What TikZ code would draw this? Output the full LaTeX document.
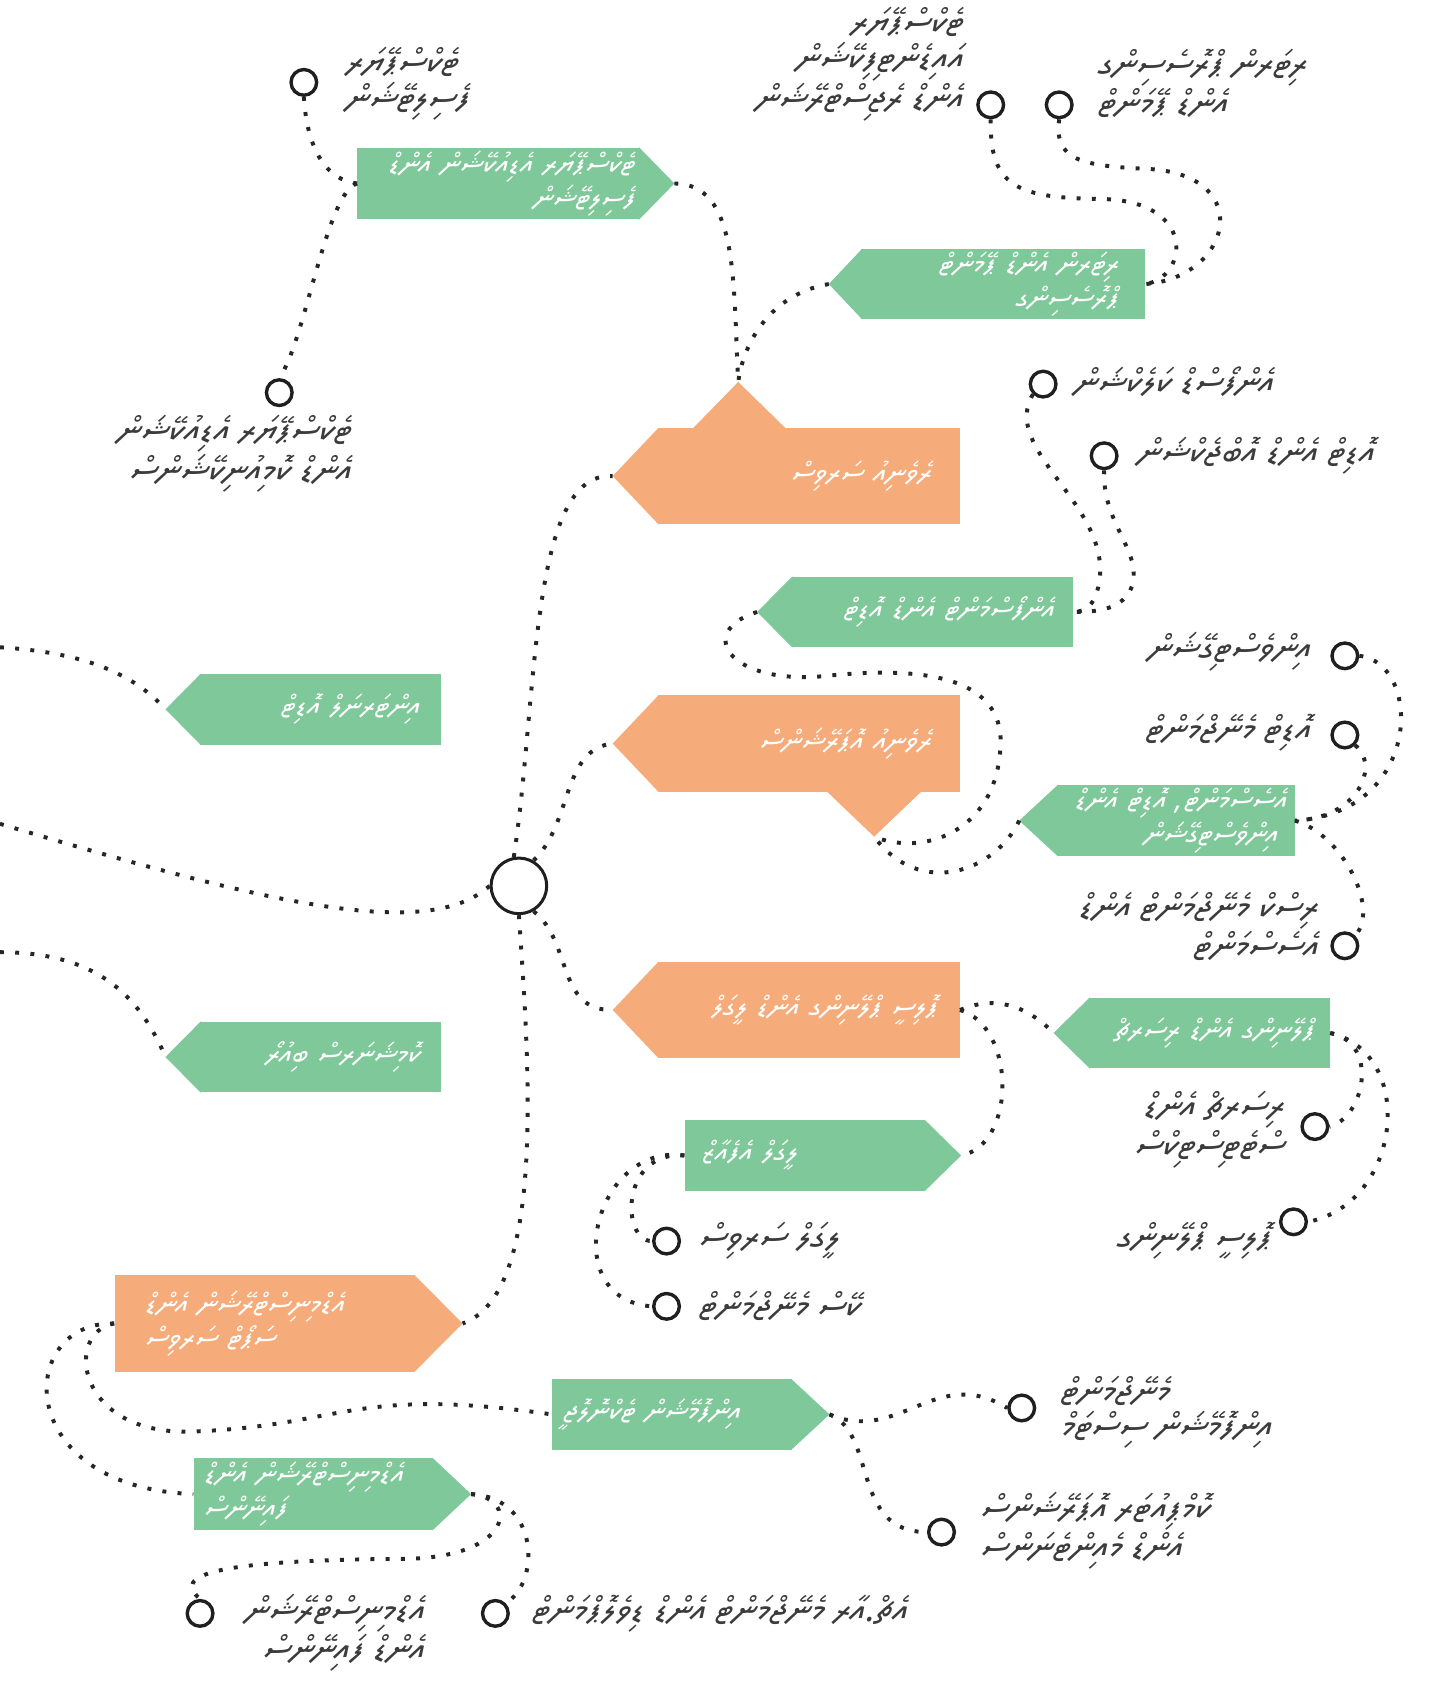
\documentclass[tikz,border=0pt]{standalone}
\usepackage{fontspec}
\usetikzlibrary{calc}
\TeXXeTstate=1
\IfFontExistsTF{Noto Sans Thaana}
  {\newfontfamily\thaana[Script=Thaana,FakeSlant=0.2]{Noto Sans Thaana}}
  {\IfFontExistsTF{FreeSerif}
    {\newfontfamily\thaana[FakeSlant=0.2]{FreeSerif}}
    {\newfontfamily\thaana{DejaVu Sans}}}
\definecolor{boxgreen}{HTML}{7FC899}
\definecolor{boxorange}{HTML}{F6AC7A}
\definecolor{labelgray}{HTML}{3C3C3C}
\newcommand\dv[1]{\mbox{\beginR#1\endR}}
% pointer of a box: node, depth, colour
\newcommand\tipwest[3]{\fill[#3] ($(#1.north west)+(1,0)$) -- ($(#1.west)+(-#2,0)$) coordinate (#1-tip) -- ($(#1.south west)+(1,0)$) -- cycle;}
\newcommand\tipeast[3]{\fill[#3] ($(#1.north east)+(-1,0)$) -- ($(#1.east)+(#2,0)$) coordinate (#1-tip) -- ($(#1.south east)+(-1,0)$) -- cycle;}

\begin{document}
\begin{tikzpicture}[x=0.02cm,y=-0.02cm,
  gbox/.style={fill=boxgreen,text=white,minimum height=1.32cm,inner ysep=0pt,font=\thaana\fontsize{15.6}{18}\selectfont},
  obox/.style={gbox,fill=boxorange,minimum height=1.8cm},
  ring/.style={circle,draw=black!88,line width=1.8pt,minimum size=0.48cm,inner sep=0pt},
  hubring/.style={ring,minimum size=1.04cm,line width=1.6pt},
  lbl/.style={text=labelgray,inner sep=0pt,font=\thaana\fontsize{19}{19}\selectfont},
  dots/.style={draw=black!85,line width=2.1pt,dash pattern=on 2.1pt off 6pt}
  ]
\useasboundingbox (0,0) rectangle (1340,1574);

% boxes
\node[gbox,minimum width=5.28cm,minimum height=1.34cm,inner xsep=0.1cm,text width=5.08cm,align=right] (g1) at (466,171.5)
  {\dv{ޓެކްސްޕޭޔަރ އެޑިއުކޭޝަން އެންޑް}\\\dv{ފެސިލިޓޭޝަން}};
\tipeast{g1}{32}{boxgreen}
\node[gbox,minimum width=5.30cm,minimum height=1.30cm,inner xsep=0.5cm,text width=4.3cm,align=right] (g2) at (937.5,265.5)
  {\dv{ރިޓަރން އެންޑް ޕޭމަންޓް}\\\dv{ޕްރޮސެސިންގ}};
\tipwest{g2}{30}{boxgreen}
\node[obox,minimum width=5.64cm,inner xsep=0.54cm,text width=4.56cm,align=right] (o1) at (756,445)
  {\dv{ރެވެނިއު ސަރވިސް}};
\tipwest{o1}{42}{boxorange}
\fill[boxorange] (647,401) -- (690,357) coordinate (o1-top) -- (735,401) -- cycle;
\node[gbox,minimum width=5.26cm,inner xsep=0.36cm,text width=4.54cm,align=right] (g3) at (871.5,572)
  {\dv{އެންފޯސްމަންޓް އެންޑް އޮޑިޓް}};
\tipwest{g3}{32}{boxgreen}
\node[gbox,minimum width=4.5cm,inner xsep=0.4cm,text width=3.7cm,align=right] (g9) at (299.5,663)
  {\dv{އިންޓަރނަލް އޮޑިޓް}};
\tipwest{g9}{32}{boxgreen}
\node[obox,minimum width=5.64cm,inner xsep=0.54cm,text width=4.56cm,align=right] (o2) at (756,695)
  {\dv{ރެވެނިއު އޮޕަރޭޝަންސް}};
\tipwest{o2}{42}{boxorange}
\fill[boxorange] (772,739) -- (817,782) coordinate (o2-bot) -- (862,739) -- cycle;
\node[gbox,minimum width=4.44cm,inner xsep=0.32cm,text width=3.8cm,align=right] (g4) at (1099,767)
  {\dv{އެސެސްމަންޓް، އޮޑިޓް އެންޑް}\\\dv{އިންވެސްޓިގޭޝަން}};
\tipwest{g4}{35}{boxgreen}
\node[gbox,minimum width=4.5cm,inner xsep=0.4cm,text width=3.7cm,align=right] (g10) at (299.5,988)
  {\dv{ކޮމިޝަނަރސް ބިއުރޯ}};
\tipwest{g10}{32}{boxgreen}
\node[obox,minimum width=5.64cm,inner xsep=0.42cm,text width=4.8cm,align=right] (o3) at (756,944)
  {\dv{ޕޮލިސީ ޕްލޭނިންގ އެންޑް ލީގަލް}};
\tipwest{o3}{42}{boxorange}
\node[gbox,minimum width=4.5cm,inner xsep=0.3cm,text width=3.9cm,align=right] (g5) at (1130.5,965.5)
  {\dv{ޕްލޭނިންގ އެންޑް ރިސަރޗް}};
\tipwest{g5}{33}{boxgreen}
\node[gbox,minimum width=4.5cm,inner xsep=0.3cm,text width=3.9cm,align=left] (g6) at (752.5,1080)
  {\dv{ލީގަލް އެފެއާޒް}};
\tipeast{g6}{33}{boxgreen}
\node[obox,minimum width=5.62cm,inner xsep=0.56cm,text width=4.5cm,align=left] (o4) at (247.5,1237)
  {\dv{އެޑްމިނިސްޓްރޭޝަން އެންޑް}\\\dv{ސަޕޯޓް ސަރވިސް}};
\tipeast{o4}{44}{boxorange}
\node[gbox,minimum width=4.48cm,inner xsep=0.2cm,text width=4.08cm,align=left] (g7) at (628,1322)
  {\dv{އިންފޮމޭޝަން ޓެކްނޮލޮޖީ}};
\tipeast{g7}{35}{boxgreen}
\node[gbox,minimum width=4.48cm,minimum height=1.34cm,inner xsep=0.18cm,text width=4.12cm,align=left] (g8) at (293,1396.5)
  {\dv{އެޑްމިނިސްޓްރޭޝަން އެންޑް}\\\dv{ފައިނޭންސް}};
\tipeast{g8}{35}{boxgreen}

% hub and end points
\node[hubring] (hub) at (485,828) {};
\node[ring] (c1) at (284,77) {};
\node[ring] (c2) at (261,367) {};
\node[ring] (c3) at (926,98) {};
\node[ring] (c4) at (990,98) {};
\node[ring] (c5) at (975,359) {};
\node[ring] (c6) at (1032,426) {};
\node[ring] (c7) at (1257,613) {};
\node[ring] (c8) at (1257,687) {};
\node[ring] (c9) at (1257,884) {};
\node[ring] (c10) at (1229,1053) {};
\node[ring] (c11) at (1209,1142) {};
\node[ring] (c12) at (623,1160) {};
\node[ring] (c13) at (623,1221) {};
\node[ring] (c14) at (955,1316) {};
\node[ring] (c15) at (880,1432) {};
\node[ring] (c16) at (187,1508) {};
\node[ring] (c17) at (463,1508) {};
\coordinate (edge-a) at (0,605);
\coordinate (edge-b) at (0,770);
\coordinate (edge-c) at (0,890);

% labels
\node[lbl,anchor=west,align=left] (l1) at (322,78) {\dv{ޓެކްސްޕޭޔަރ}\\\dv{ފެސިލިޓޭޝަން}};
\node[lbl,anchor=east,align=right] (l2) at (328,424) {\dv{ޓެކްސްޕޭޔަރ އެޑިއުކޭޝަން}\\\dv{އެންޑް ކޮމިއުނިކޭޝަންސް}};
\node[lbl,anchor=east,align=right] (l3) at (900,60) {\dv{ޓެކްސްޕޭޔަރ}\\\dv{އައިޑެންޓިފިކޭޝަން}\\\dv{އެންޑް ރެޖިސްޓްރޭޝަން}};
\node[lbl,anchor=west,align=left] (l4) at (1025,78) {\dv{ރިޓަރން ޕްރޮސެސިންގ}\\\dv{އެންޑް ޕޭމަންޓް}};
\node[lbl,anchor=west] (l5) at (1003,357) {\dv{އެންފޯސްޑް ކަލެކްޝަން}};
\node[lbl,anchor=west] (l6) at (1062,426) {\dv{އޮޑިޓް އެންޑް އޮބްޖެކްޝަން}};
\node[lbl,anchor=east] (l7) at (1225,609) {\dv{އިންވެސްޓިގޭޝަން}};
\node[lbl,anchor=east] (l8) at (1225,685) {\dv{އޮޑިޓް މެނޭޖްމަންޓް}};
\node[lbl,anchor=east,align=right] (l9) at (1232,866) {\dv{ރިސްކް މެނޭޖްމަންޓް އެންޑް}\\\dv{އެސެސްމަންޓް}};
\node[lbl,anchor=east,align=right] (l10) at (1200,1056) {\dv{ރިސަރޗް އެންޑް}\\\dv{ސްޓެޓިސްޓިކްސް}};
\node[lbl,anchor=east] (l11) at (1188,1160) {\dv{ޕޮލިސީ ޕްލޭނިންގ}};
\node[lbl,anchor=west] (l12) at (652,1160) {\dv{ލީގަލް ސަރވިސް}};
\node[lbl,anchor=west] (l13) at (652,1221) {\dv{ކޭސް މެނޭޖްމަންޓް}};
\node[lbl,anchor=west,align=left] (l14) at (990,1320) {\dv{މެނޭޖްމަންޓް}\\\dv{އިންފޮމޭޝަން ސިސްޓަމް}};
\node[lbl,anchor=west,align=left] (l15) at (915,1431) {\dv{ކޮމްޕިއުޓަރ އޮޕަރޭޝަންސް}\\\dv{އެންޑް މެއިންޓެނަންސް}};
\node[lbl,anchor=west,align=right] (l16) at (228,1526) {\dv{އެޑްމިނިސްޓްރޭޝަން}\\\dv{އެންޑް ފައިނޭންސް}};
\node[lbl,anchor=west] (l17) at (496,1508) {\dv{އެޗް.އާރ މެނޭޖްމަންޓް އެންޑް ޑިވެލޮޕްމަންޓް}};

% connectors
\draw[dots] (c1.south) .. controls (287,140) and (305,168) .. (g1.west);
\draw[dots] (g1.west) .. controls (305,180) and (285,320) .. (c2.north);
\draw[dots] (g1-tip) .. controls (690,172) and (685,260) .. (o1-top);
\draw[dots] (g2-tip) .. controls (720,275) and (695,320) .. (o1-top);
\draw[dots] (c3.south) .. controls (925,175) and (950,185) .. (1030,186) .. controls (1120,188) and (1110,260) .. (g2.east);
\draw[dots] (c4.south) .. controls (985,150) and (1010,155) .. (1075,158) .. controls (1175,165) and (1150,260) .. (g2.east);
\draw[dots] (hub.100) .. controls (503,650) and (495,440) .. (o1-tip);
\draw[dots] (c5.south west) .. controls (935,420) and (1035,470) .. (1028,540) .. controls (1025,565) and (1015,572) .. (g3.east);
\draw[dots] (c6.south) .. controls (1030,490) and (1068,515) .. (1058,548) .. controls (1050,570) and (1025,572) .. (g3.east);
\draw[dots] (g3-tip) .. controls (650,590) and (680,640) .. (770,632) .. controls (880,620) and (940,640) .. (935,700) .. controls (930,780) and (860,800) .. (o2-bot);
\draw[dots] (g4-tip) .. controls (930,815) and (860,840) .. (o2-bot);
\draw[dots] (c7.east) .. controls (1330,620) and (1330,760) .. (g4.east);
\draw[dots] (c8.south east) .. controls (1290,715) and (1270,765) .. (g4.east);
\draw[dots] (g4.east) .. controls (1255,780) and (1290,850) .. (c9.north east);
\draw[dots] (hub.60) .. controls (535,770) and (525,700) .. (o2-tip);
\draw[dots] (hub.-60) .. controls (535,880) and (520,945) .. (o3-tip);
\draw[dots] (o3.east) .. controls (930,930) and (960,940) .. (g5-tip);
\draw[dots] (o3.east) .. controls (950,960) and (950,1070) .. (g6-tip);
\draw[dots] (g5.east) .. controls (1290,975) and (1275,1045) .. (c10.east);
\draw[dots] (g5.east) .. controls (1325,985) and (1310,1125) .. (c11.east);
\draw[dots] (g6.west) .. controls (580,1075) and (580,1160) .. (c12.west);
\draw[dots] (g6.west) .. controls (555,1068) and (520,1215) .. (c13.west);
\draw[dots] (hub.south) .. controls (495,1000) and (510,1210) .. (o4-tip);
\draw[dots] (hub.west) .. controls (400,880) and (250,845) .. (edge-b);
\draw[dots] (edge-a) .. controls (80,610) and (125,630) .. (g9-tip);
\draw[dots] (edge-c) .. controls (90,890) and (130,930) .. (g10-tip);
\draw[dots] (o4.west) .. controls (60,1245) and (70,1342) .. (180,1338) .. controls (320,1333) and (330,1295) .. (g7.west);
\draw[dots] (o4.west) .. controls (15,1235) and (10,1390) .. (g8.west);
\draw[dots] (g7-tip) .. controls (840,1350) and (875,1275) .. (c14.west);
\draw[dots] (g7-tip) .. controls (820,1340) and (795,1432) .. (c15.west);
\draw[dots] (g8-tip) .. controls (485,1400) and (480,1455) .. (380,1457) .. controls (200,1458) and (160,1472) .. (c16.north);
\draw[dots] (g8-tip) .. controls (505,1400) and (505,1480) .. (c17.north east);
\end{tikzpicture}
\end{document}
